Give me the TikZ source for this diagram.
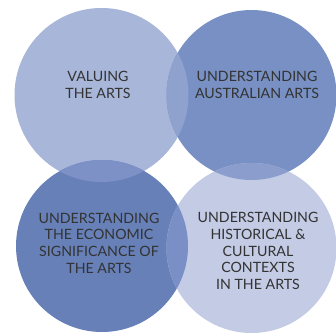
\documentclass[tikz,border=0pt]{standalone}
\usepackage{fontspec}
\setmainfont{Lato}
\definecolor{ctl}{HTML}{A8B6D9}
\definecolor{ctr}{HTML}{7890C3}
\definecolor{cbl}{HTML}{6780B8}
\definecolor{cbr}{HTML}{C3CBE5}
\definecolor{otop}{HTML}{8FA2CE}
\definecolor{obot}{HTML}{7A8FC5}
\definecolor{oleft}{HTML}{7D91C6}
\definecolor{oright}{HTML}{8A9DCC}
\definecolor{txt}{HTML}{333333}
\tikzset{
  lbl/.style={align=center, text=txt, font=\fontsize{14.2}{16.7}\selectfont, inner sep=0pt},
}
\begin{document}
\begin{tikzpicture}[x=1pt,y=1pt]
\useasboundingbox (0,0) rectangle (336,333);
\coordinate (ctlc) at (101.5,238);
\coordinate (ctrc) at (251.5,238);
\coordinate (cblc) at (102,87);
\coordinate (cbrc) at (251.5,85);
\fill[ctl] (ctlc) circle (87);
\fill[ctr] (ctrc) circle (85);
\fill[cbl] (cblc) circle (86);
\fill[cbr] (cbrc) circle (85);
\begin{scope}\clip (ctlc) circle (87); \fill[otop] (ctrc) circle (85); \end{scope}
\begin{scope}\clip (cblc) circle (86); \fill[obot] (cbrc) circle (85); \end{scope}
\begin{scope}\clip (ctlc) circle (87); \fill[oleft] (cblc) circle (86); \end{scope}
\begin{scope}\clip (ctrc) circle (85); \fill[oright] (cbrc) circle (85); \end{scope}
\node[lbl] (a) at (98,248) {VALUING\\THE ARTS};
\node[lbl] (b) at (257,248) {UNDERSTANDING\\AUSTRALIAN ARTS};
\node[lbl] (c) at (99,90) {UNDERSTANDING\\THE ECONOMIC\\SIGNIFICANCE OF\\THE ARTS};
\node[lbl] (d) at (258,82) {UNDERSTANDING\\HISTORICAL \&\\CULTURAL\\CONTEXTS\\IN THE ARTS};
\end{tikzpicture}
\end{document}
